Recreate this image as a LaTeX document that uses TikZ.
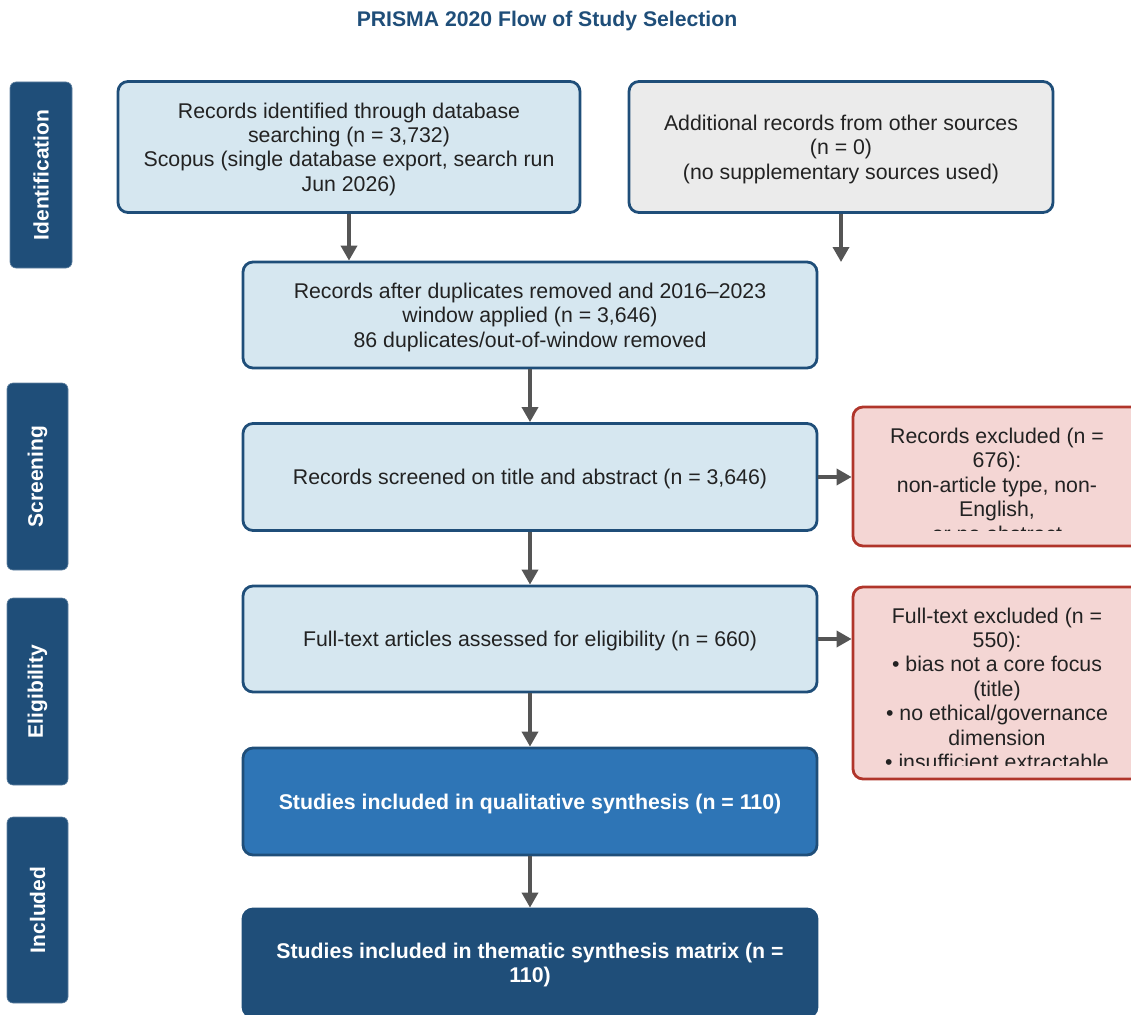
\documentclass[tikz,border=0pt]{standalone}
\usepackage{fontspec}
\setmainfont{Liberation Sans}
\usetikzlibrary{arrows.meta}
\definecolor{darkblue}{HTML}{1F4E79}
\definecolor{lightfill}{HTML}{D6E7F0}
\definecolor{grayfill}{HTML}{EBEBEB}
\definecolor{redfill}{HTML}{F4D6D4}
\definecolor{redline}{HTML}{B0352B}
\definecolor{midblue}{HTML}{2E75B6}
\definecolor{arrowgray}{HTML}{555555}
\definecolor{txt}{HTML}{222222}
\tikzset{
  base/.style={rectangle, rounded corners=10pt, line width=2.8pt, inner sep=0pt},
  lightbox/.style={base, draw=darkblue, fill=lightfill},
  graybox/.style={base, draw=darkblue, fill=grayfill},
  redbox/.style={base, draw=redline, fill=redfill},
  midbox/.style={base, draw=darkblue, fill=midblue},
  darkbox/.style={base, draw=darkblue, fill=darkblue},
  boxtext/.style={align=center, inner sep=0pt, text=txt, font=\fontsize{21.3}{24.4}\selectfont},
  boldtext/.style={align=center, inner sep=0pt, text=white, font=\fontsize{21.3}{24.4}\selectfont\bfseries},
  phase/.style={rectangle, rounded corners=6pt, fill=darkblue, draw=darkblue!70, line width=0.6pt, text=white,
    rotate=90, font=\fontsize{21}{24}\selectfont\bfseries, inner sep=0pt},
  flow/.style={draw=arrowgray, line width=3.5pt, -{Triangle[length=15pt,width=16pt]}},
}
\begin{document}
\begin{tikzpicture}[x=1pt,y=-1pt]
\useasboundingbox (0,0) rectangle (1131,1014);
\clip (0,0) rectangle (1131,1014);

\node[font=\fontsize{21.2}{24}\selectfont\bfseries, text=darkblue] (title) at (547,21.5) {PRISMA 2020 Flow of Study Selection};

% phase labels
\node[phase, minimum width=186pt, minimum height=62pt] (pid) at (41,175) {Identification};
\node[phase, minimum width=187pt, minimum height=61pt] (psc) at (37.5,476.5) {Screening};
\node[phase, minimum width=187pt, minimum height=61pt] (pel) at (37.5,691.5) {Eligibility};
\node[phase, minimum width=186pt, minimum height=61pt] (pin) at (37.5,910) {Included};

% main boxes
\node[lightbox, minimum width=462pt, minimum height=131pt] (A) at (349,147) {};
\node[boxtext] (At) at ([yshift=-2.2pt]A.center)
  {Records identified through database\\searching (n = 3,732)\\Scopus (single database export, search run\\Jun 2026)};
\node[graybox, minimum width=424pt, minimum height=131pt] (B) at (841,147) {};
\node[boxtext] (Bt) at ([yshift=-2.2pt]B.center)
  {Additional records from other sources\\(n = 0)\\(no supplementary sources used)};
\node[lightbox, minimum width=574pt, minimum height=106pt] (C) at (530,315) {};
\node[boxtext] (Ct) at ([yshift=-2.2pt]C.center)
  {Records after duplicates removed and 2016--2023\\window applied (n = 3,646)\\86 duplicates/out-of-window removed};
\node[lightbox, minimum width=574pt, minimum height=107pt] (D) at (530,477) {};
\node[boxtext] (Dt) at ([yshift=-2.2pt]D.center)
  {Records screened on title and abstract (n = 3,646)};
\node[lightbox, minimum width=574pt, minimum height=106pt] (F) at (530,639) {};
\node[boxtext] (Ft) at ([yshift=-2.2pt]F.center)
  {Full-text articles assessed for eligibility (n = 660)};
\node[midbox, minimum width=574pt, minimum height=107pt] (G) at (530,801.5) {};
\node[boldtext] (Gt) at ([yshift=-2.2pt]G.center)
  {Studies included in qualitative synthesis (n = 110)};
\node[darkbox, minimum width=574pt, minimum height=108pt] (H) at (530,963) {};
\node[boldtext] (Ht) at ([yshift=-2.2pt]H.center)
  {Studies included in thematic synthesis matrix (n =\\110)};

% exclusion boxes (text clipped inside)
\node[redbox, minimum width=288pt, minimum height=139pt] (E1) at (997,476.5) {};
\begin{scope}
  \clip (856,418) rectangle (1131,530);
  \node[boxtext, anchor=north, font=\fontsize{21.3}{24.5}\selectfont] (E1t) at (997,427.5)
    {Records excluded (n =\\676):\\non-article type, non-\\English,\\or no abstract};
\end{scope}
\node[redbox, minimum width=288pt, minimum height=192pt] (E2) at (997,683) {};
\begin{scope}
  \clip (856,598) rectangle (1131,765);
  \node[boxtext, anchor=north, font=\fontsize{21.3}{24.4}\selectfont] (E2t) at (997,607.5)
    {Full-text excluded (n =\\550):\\\textbullet{} bias not a core focus\\(title)\\\textbullet{} no ethical/governance\\dimension\\\textbullet{} insufficient extractable};
\end{scope}

% connectors
\coordinate (Bend) at (841,262);
\draw[flow] (A.south) -- (A.south |- C.north);
\draw[flow] (B.south) -- (Bend);
\draw[flow] (C.south) -- (D.north);
\draw[flow] (D.south) -- (F.north);
\draw[flow] (F.south) -- (G.north);
\draw[flow] (G.south) -- (H.north);
\draw[flow] (D.east) -- (D.east -| E1.west);
\draw[flow] (F.east) -- (F.east -| E2.west);
\end{tikzpicture}
\end{document}
